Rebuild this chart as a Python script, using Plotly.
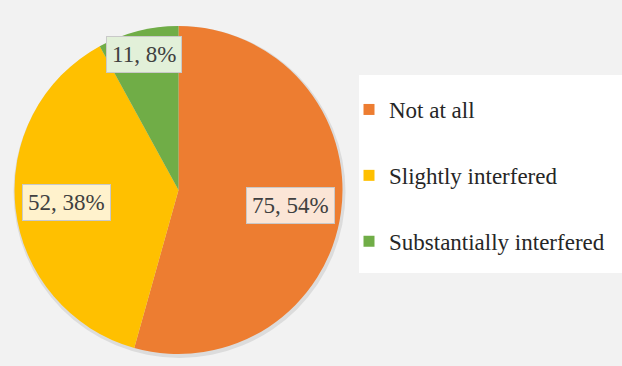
import math
import plotly.graph_objects as go

# ---- data ----
categories = ["Not at all", "Slightly interfered", "Substantially interfered"]
counts = [75, 52, 11]
colors = ["#ED7D31", "#FFC000", "#70AD47"]
label_fills = ["#FBE5D6", "#FFF2CC", "#E2F0D9"]

# ---- layout constants (pixels) ----
W, H = 622, 366
cx, cy, R = 178.5, 190.0, 164.0
label_radius = [0.69, 0.69, 0.85]
FONT = "Liberation Serif"

fig = go.Figure()

fig.add_trace(go.Pie(
    labels=categories,
    values=counts,
    sort=False,
    direction="clockwise",
    rotation=0,
    marker=dict(colors=colors, line=dict(width=0)),
    textinfo="none",
    hoverinfo="label+value+percent",
    showlegend=False,
    domain=dict(x=[(cx - R) / W, (cx + R) / W], y=[1 - (cy + R) / H, 1 - (cy - R) / H]),
))

# legend entries (dummy traces so that items can be spaced apart)
for i, (cat, col) in enumerate(zip(categories, colors)):
    fig.add_trace(go.Scatter(
        x=[None], y=[None], mode="markers", name=cat,
        marker=dict(symbol="square", size=11, color=col),
        legendgroup=f"g{i}", showlegend=True, hoverinfo="skip",
    ))

# data callouts, positioned from the slice angles
total = sum(counts)
start = 90.0
annotations = []
for i, v in enumerate(counts):
    span = v / total * 360.0
    mid = math.radians(start - span / 2)
    start -= span
    px = cx + label_radius[i] * R * math.cos(mid)
    py = cy - label_radius[i] * R * math.sin(mid)
    pct = round(v / total * 100)
    annotations.append(dict(
        x=px / W, y=1 - py / H, xref="paper", yref="paper",
        text=f"{v}, {pct}%", showarrow=False,
        xanchor="center", yanchor="middle",
        font=dict(family=FONT, size=23, color="#404040"),
        bgcolor=label_fills[i], bordercolor="#C9C9C9", borderwidth=1, borderpad=5,
    ))

shapes = [
    # soft shadow behind the pie
    dict(type="circle", xref="paper", yref="paper", layer="below",
         x0=(cx - R - 1) / W, x1=(cx + R + 3) / W,
         y0=1 - (cy + R + 4) / H, y1=1 - (cy - R) / H,
         fillcolor="#DCDCDC", line=dict(width=0)),
    # white legend panel
    dict(type="rect", xref="paper", yref="paper", layer="below",
         x0=359 / W, x1=1.0, y0=1 - 273 / H, y1=1 - 75 / H,
         fillcolor="#FFFFFF", line=dict(width=0)),
]

fig.update_layout(
    width=W, height=H,
    margin=dict(l=0, r=0, t=0, b=0),
    font=dict(family=FONT, size=23, color="#262626"),
    paper_bgcolor="#F2F2F2",
    plot_bgcolor="rgba(0,0,0,0)",
    xaxis=dict(visible=False),
    yaxis=dict(visible=False),
    showlegend=True,
    legend=dict(
        x=349 / W, y=1 - 88 / H, xanchor="left", yanchor="top",
        bgcolor="rgba(0,0,0,0)",
        font=dict(family=FONT, size=23, color="#262626"),
        tracegroupgap=33,
        traceorder="grouped",
    ),
    annotations=annotations,
    shapes=shapes,
)

fig.write_html(
    "out.html",
    config={"displayModeBar": False},
    post_script="document.body.style.margin='0';document.body.style.padding='0';",
)
